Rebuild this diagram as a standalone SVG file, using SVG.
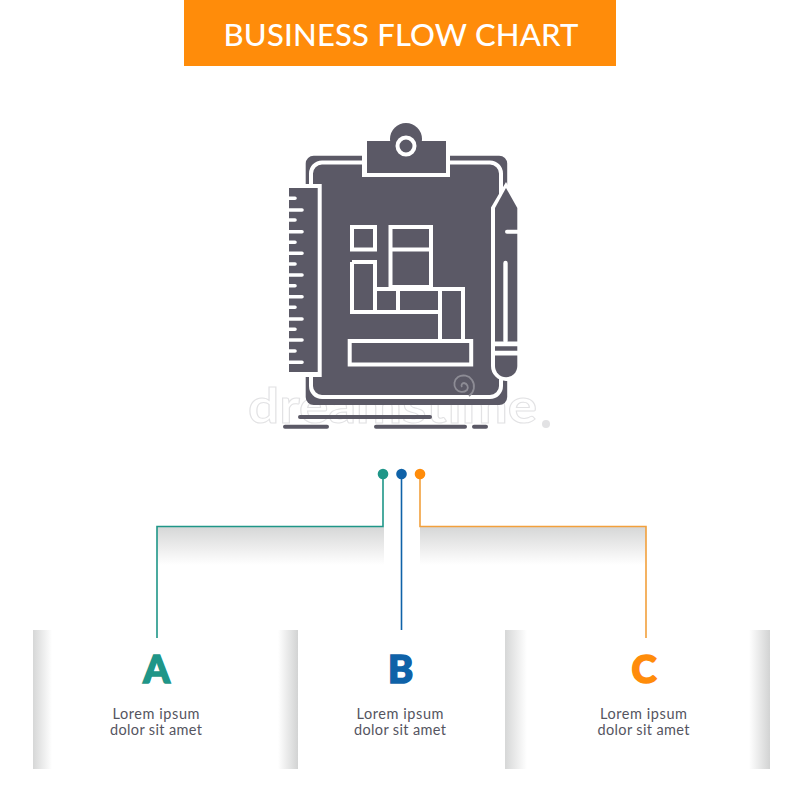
<svg xmlns="http://www.w3.org/2000/svg" width="800" height="800" viewBox="0 0 800 800">
<style>
.dark{fill:#5b5966}
.cut{fill:none;stroke:#fff;stroke-width:4}
.tick{stroke:#fff;stroke-width:3.6;stroke-linecap:round}
.base{stroke:#5b5966;stroke-width:4;stroke-linecap:round}
.conn{fill:none;stroke-width:1.6}
.letter{font:900 38px Lato,"Liberation Sans",sans-serif;text-anchor:middle;stroke-width:1.6;paint-order:stroke}
.body{font:400 14.5px Lato,"Liberation Sans",sans-serif;fill:#55555f;text-anchor:middle}
.title{font:500 31px Lato,"Liberation Sans",sans-serif;fill:#fff;text-anchor:middle}
.wm{font:700 47px Lato,"Liberation Sans",sans-serif;fill:#fff;stroke:#e2e2e4;stroke-width:1}
</style>
<defs>
<linearGradient id="down" x1="0" y1="0" x2="0" y2="1"><stop offset="0" stop-color="#d6d7d7"/><stop offset=".6" stop-color="#efefef"/><stop offset="1" stop-color="#fff"/></linearGradient>
<linearGradient id="fromLeft" x1="0" y1="0" x2="1" y2="0"><stop offset="0" stop-color="#d6d7d7"/><stop offset="1" stop-color="#fff"/></linearGradient>
<linearGradient id="fromRight" x1="1" y1="0" x2="0" y2="0"><stop offset="0" stop-color="#d2d3d3"/><stop offset="1" stop-color="#fff"/></linearGradient>
</defs>
<rect width="800" height="800" fill="#fff"/>
<g id="header">
<rect x="184" y="0" width="432" height="66" fill="#ff8c0a"/>
<text class="title" x="401" y="46" textLength="355">BUSINESS FLOW CHART</text>
</g>
<g id="watermark">
<text class="wm" x="248" y="423" textLength="289" lengthAdjust="spacingAndGlyphs">dreamstime</text>
<circle cx="546" cy="424" r="4" fill="#e2e2e4"/>
</g>
<g id="icon">
<circle class="dark" cx="406" cy="139" r="16"/>
<rect class="dark" x="305.700" y="155.700" width="201.500" height="249.300" rx="8"/>
<rect x="311" y="162.500" width="190" height="234.500" rx="11" class="cut"/>
<rect x="362" y="150" width="88" height="27" fill="#fff"/>
<rect class="dark" x="367" y="141" width="79" height="32"/>
<circle cx="406" cy="146" r="8.500" fill="#5b5966" stroke="#fff" stroke-width="4"/>
<rect x="285" y="184" width="36.700" height="193" fill="#fff"/>
<rect class="dark" x="289" y="188" width="28.700" height="184"/>
<g class="tick">
<path d="M287 198.300H295M287 210H302M287 220H295M287 231.700H302M287 242.300H295M287 253.300H302M287 264H295M287 275H302M287 285.700H295M287 296.700H302M287 307.300H295M287 319H302M287 329.300H295M287 340H302M287 351H295M287 362.300H302"/>
</g>
<path d="M493 208L506 186L519 208V366a13 13 0 0 1-26 0Z" fill="#fff" stroke="#fff" stroke-width="4"/>
<path class="dark" d="M495 208L506 188L517.300 208V366a11 11 0 0 1-22.300 0Z"/>
<path d="M495 343.800H518M495 353.200H518" stroke="#fff" stroke-width="4.800"/>
<path d="M505.500 263V341" stroke="#fff" stroke-width="4.400" stroke-linecap="round"/>
<path d="M507 231.700H518" stroke="#fff" stroke-width="4" stroke-linecap="round"/>
<g class="cut">
<rect x="352" y="227" width="23" height="22.500"/>
<rect x="390.500" y="227" width="40.500" height="60"/>
<path d="M390.500 249.500H431"/>
<path d="M352 262H375V289H400M375 289V312M352 262V312H440M398 289V312"/>
<path d="M375 289H463V341H440V291"/>
<rect x="349.700" y="341" width="121.500" height="23.500"/>
</g>
<path class="base" d="M300 417H430M285 426.700H327M376 426.700H465M474 426.700H486"/>
<g fill="none" stroke="#8d8c95" stroke-width="1.800">
<path d="M462 387a2.500 2.500 0 0 1 2-4a4.500 4.500 0 0 1 3 7a7.500 7.500 0 0 1-11-1a8.500 8.500 0 0 1 2-12a10.500 10.500 0 0 1 14 3a11.500 11.500 0 0 1-3 16"/>
</g>
</g>
<g id="connectors">
<rect x="157" y="527" width="227" height="38" fill="url(#down)"/>
<rect x="420" y="527" width="226" height="38" fill="url(#down)"/>
<path class="conn" stroke="#1f9688" d="M383 474V526.500H157V638"/>
<path class="conn" stroke="#0f62a8" d="M401.500 474V630"/>
<path class="conn" stroke="#f2a03c" d="M420 474V526.500H646V638"/>
<circle cx="383" cy="474" r="5.300" fill="#1f9688"/>
<circle cx="401.500" cy="474" r="5.300" fill="#0f62a8"/>
<circle cx="420" cy="474" r="5.300" fill="#ff8c0a"/>
</g>
<g id="node-a">
<rect x="33" y="630" width="19" height="139" fill="url(#fromLeft)"/>
<rect x="278" y="630" width="20" height="139" fill="url(#fromRight)"/>
<text class="letter" x="156.500" y="683" fill="#1f9688" stroke="#1f9688">A</text>
<text class="body" x="156" y="718.500" textLength="87">Lorem ipsum</text>
<text class="body" x="156" y="735" textLength="92">dolor sit amet</text>
</g>
<g id="node-b">
<text class="letter" x="400.500" y="683" fill="#0f62a8" stroke="#0f62a8">B</text>
<text class="body" x="400" y="718.500" textLength="87">Lorem ipsum</text>
<text class="body" x="400" y="735" textLength="92">dolor sit amet</text>
</g>
<g id="node-c">
<rect x="505" y="630" width="22" height="139" fill="url(#fromLeft)"/>
<rect x="749" y="630" width="21" height="139" fill="url(#fromRight)"/>
<text class="letter" x="644" y="683" fill="#ff8c0a" stroke="#ff8c0a">C</text>
<text class="body" x="643.500" y="718.500" textLength="87">Lorem ipsum</text>
<text class="body" x="643.500" y="735" textLength="92">dolor sit amet</text>
</g>
</svg>
